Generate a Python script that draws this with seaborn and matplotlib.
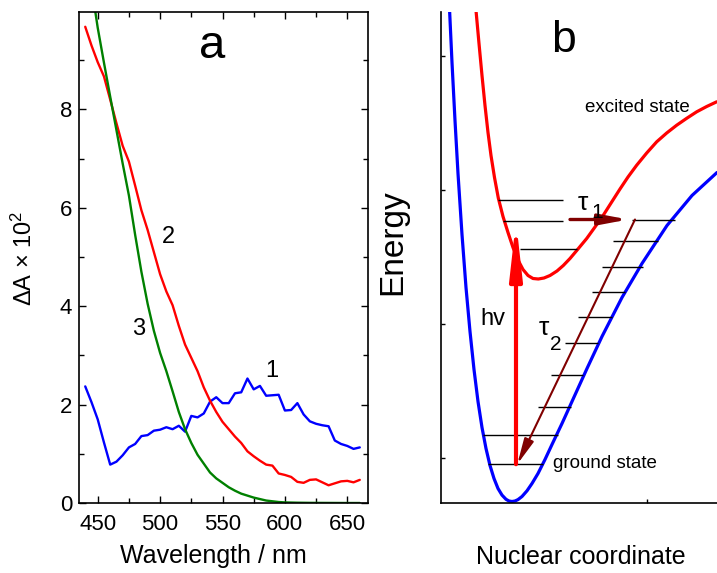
import numpy as np
import pandas as pd
import matplotlib
matplotlib.use("Agg")
import matplotlib.pyplot as plt
import seaborn as sns
from matplotlib.ticker import MultipleLocator

sns.set_theme(style="ticks")
plt.rcParams['font.family'] = ['Liberation Sans', 'DejaVu Sans']
plt.rcParams['text.color'] = 'black'
plt.rcParams['axes.labelcolor'] = 'black'
plt.rcParams['xtick.color'] = 'black'
plt.rcParams['ytick.color'] = 'black'
plt.rcParams['mathtext.fontset'] = 'custom'
plt.rcParams['mathtext.rm'] = 'Liberation Sans'
plt.rcParams['mathtext.it'] = 'Liberation Sans:italic'
plt.rcParams['mathtext.bf'] = 'Liberation Sans:bold'

# ---------------- panel a data ----------------
wavelength = list(range(440, 661, 5))
curve1 = [2.37, 2.05, 1.70, 1.23, 0.78, 0.84, 0.97, 1.13, 1.20, 1.36, 1.38, 1.47, 1.49,
          1.54, 1.50, 1.57, 1.45, 1.77, 1.74, 1.82, 2.06, 2.15, 2.03, 2.03, 2.23, 2.25,
          2.53, 2.31, 2.38, 2.18, 2.19, 2.20, 1.88, 1.89, 2.03, 1.80, 1.66, 1.61, 1.58,
          1.56, 1.27, 1.20, 1.16, 1.10, 1.13]
curve2 = [9.68, 9.30, 8.96, 8.67, 8.20, 7.72, 7.26, 6.94, 6.45, 5.95, 5.55, 5.10, 4.65,
          4.30, 4.02, 3.60, 3.22, 2.95, 2.68, 2.35, 2.08, 1.85, 1.65, 1.50, 1.35, 1.22,
          1.05, 0.95, 0.86, 0.78, 0.76, 0.60, 0.57, 0.53, 0.43, 0.41, 0.47, 0.48, 0.42,
          0.36, 0.40, 0.44, 0.45, 0.42, 0.47]
wavelength3 = list(range(445, 601, 5)) + [610, 620, 630, 640, 650, 660]
curve3 = [10.5, 9.66, 8.95, 8.26, 7.58, 6.90, 6.25, 5.45, 4.70, 4.05, 3.50, 3.05, 2.68,
          2.27, 1.85, 1.50, 1.22, 0.98, 0.80, 0.62, 0.50, 0.41, 0.32, 0.25, 0.19, 0.15,
          0.11, 0.08, 0.05, 0.035, 0.02, 0.012, 0.006, 0.003, 0.002, 0.001, 0.0, 0.0]
xticks_a = [450, 500, 550, 600, 650]
yticks_a = [0, 2, 4, 6, 8]

# ---------------- panel b data (schematic, arbitrary units) ----------------
ground_x = [8.6, 11, 14, 17, 21, 25, 29, 33, 37, 41, 45, 49, 53, 57, 61, 65, 68, 71, 74,
            77, 81, 86, 91, 97, 104, 111, 121, 131, 146, 161, 181, 201, 226, 251, 276]
ground_E = [490.7, 439, 381, 328, 267, 214, 170, 132, 100, 74, 53, 36, 23, 13, 6.4, 2.2,
            0.5, 0, 0.5, 1.9, 5, 10.7, 18, 28, 42, 57, 78, 100, 133, 165, 204, 238, 276,
            306, 329]
excited_x = [35, 38, 41, 44, 47, 50, 53.5, 57.3, 62, 67, 72, 77, 82, 87, 92, 97.3, 103,
             109, 116, 122.3, 129, 137, 145.7, 154, 162.3, 170.7, 179, 187, 195.7, 205.7,
             215.7, 225.7, 235.7, 245.7, 255.7, 265.7, 275.7]
excited_E = [491, 458, 426, 396, 369, 346, 324, 303.5, 285, 269, 254, 241.5, 232, 226, 223,
             222.5, 223.5, 226, 230.5, 236, 243, 252.5, 263, 274.5, 286.3, 299.5, 312.5,
             324.5, 336.3, 348.5, 359.7, 368.5, 376.3, 383.2, 389.7, 395, 399.7]
exc_levels_E = [301.7, 280.5, 252.2]
exc_levels_x0 = [57.3, 62.3, 79]
exc_levels_x1 = [122.3, 122.3, 136]
gr_levels_E = [282, 260.5, 235, 210, 184.7, 158.5, 126.5, 94.7, 66.3, 37.3]
gr_levels_x0 = [190.7, 172.3, 160.7, 150.7, 137.3, 124, 110, 96.7, 42.3, 47.3]
gr_levels_x1 = [234, 217.3, 202, 184, 170.7, 157.3, 142.3, 130, 117.3, 101.7]
hv_x = 75
tau1_x = [129, 187.3]
tau2_x = [194, 76.3]

# ---------------- figure ----------------
W, H = 717, 573
fig = plt.figure(figsize=(W / 100, H / 100), dpi=100)
fig.patch.set_facecolor('white')
axa = fig.add_axes([79 / W, 70 / H, 289 / W, 491 / H])
axb = fig.add_axes([441 / W, 70 / H, 276 / W, 491 / H])

# panel a
sns.lineplot(x=wavelength, y=curve1, ax=axa, color='#0000FF', linewidth=1.7,
             estimator=None, sort=False)
sns.lineplot(x=wavelength, y=curve2, ax=axa, color='#FF0000', linewidth=1.7,
             estimator=None, sort=False)
sns.lineplot(x=wavelength3, y=curve3, ax=axa, color='#008000', linewidth=1.7,
             estimator=None, sort=False)
axa.set_xlim(435, 666.6)
axa.set_ylim(0, 9.98)
axa.set_xticks(xticks_a)
axa.set_yticks(yticks_a)
axa.xaxis.set_minor_locator(MultipleLocator(25))
axa.yaxis.set_minor_locator(MultipleLocator(1))
axa.tick_params(which='both', direction='in', top=True, right=True, labelsize=16,
                width=1, color='black', labelcolor='black')
axa.tick_params(which='major', length=5)
axa.tick_params(which='minor', length=3.5)
axa.tick_params(axis='x', pad=8)
axa.tick_params(axis='y', pad=5)
for s in axa.spines.values():
    s.set_linewidth(1.2)
    s.set_color('black')
axa.set_xlabel('')
axa.set_ylabel('')
axa.text(541.6, 9.05, 'a', fontsize=34, ha='center', va='baseline')
axa.text(589.4, 2.57, '1', fontsize=17, ha='center', va='baseline')
axa.text(506.6, 5.28, '2', fontsize=17, ha='center', va='baseline')
axa.text(482.5, 3.42, '3', fontsize=17, ha='center', va='baseline')

# panel b
sns.lineplot(x=ground_x, y=ground_E, ax=axb, color='#0000FF', linewidth=2.3,
             estimator=None, sort=False)
sns.lineplot(x=excited_x, y=excited_E, ax=axb, color='#FF0000', linewidth=2.3,
             estimator=None, sort=False)
axb.hlines(exc_levels_E, exc_levels_x0, exc_levels_x1, color='black', linewidth=1.0)
axb.hlines(gr_levels_E, gr_levels_x0, gr_levels_x1, color='black', linewidth=1.0)

axb.annotate('', xy=(hv_x, exc_levels_E[1]), xytext=(hv_x, gr_levels_E[-1]),
             arrowprops=dict(arrowstyle='-|>,head_length=3.2,head_width=0.36',
                             lw=3.0, color='#FF0000', shrinkA=0, shrinkB=0,
                             mutation_scale=10))
axb.annotate('', xy=(tau1_x[1], gr_levels_E[0]), xytext=(tau1_x[0], gr_levels_E[0]),
             arrowprops=dict(arrowstyle='-|>,head_length=1.7,head_width=0.32',
                             lw=2.4, color='#800000', shrinkA=0, shrinkB=0,
                             mutation_scale=10))
axb.annotate('', xy=(tau2_x[1], gr_levels_E[-1]), xytext=(tau2_x[0], gr_levels_E[0]),
             arrowprops=dict(arrowstyle='-|>,head_length=1.55,head_width=0.3',
                             lw=1.5, color='#800000', shrinkA=0, shrinkB=0,
                             mutation_scale=10))

axb.set_xlim(0, 276)
axb.set_ylim(-1.5, 489.5)
axb.set_xticks([205.7])
axb.set_yticks([44, 178, 312, 446])
axb.tick_params(which='both', direction='in', length=3, width=1, labelleft=False,
                labelbottom=False, color='black')
for side in ['top', 'right']:
    axb.spines[side].set_visible(False)
for side in ['left', 'bottom']:
    axb.spines[side].set_linewidth(1.2)
    axb.spines[side].set_color('black')
axb.set_xlabel('')
axb.set_ylabel('')
axb.text(122, 449.7, 'b', fontsize=32, ha='center', va='baseline')
axb.text(52.3, 176.3, 'hv', fontsize=17, ha='center', va='baseline')
axb.text(144, 389.7, 'excited state', fontsize=13.5, ha='left', va='baseline')
axb.text(112.3, 33.7, 'ground state', fontsize=13.5, ha='left', va='baseline')
axb.text(142.3, 292, 'τ', fontsize=19, ha='center', va='baseline')
axb.text(156.5, 284, '1', fontsize=15, ha='center', va='baseline')
axb.text(103.2, 166.3, 'τ', fontsize=19, ha='center', va='baseline')
axb.text(114.8, 152, '2', fontsize=15, ha='center', va='baseline')

# axis titles
fig.text(213.3 / W, 1 - 556 / H, 'Wavelength / nm', fontsize=18, ha='center', va='center')
fig.text(580.8 / W, 1 - 557 / H, 'Nuclear coordinate', fontsize=18, ha='center', va='center')
fig.text(24 / W, 1 - 258 / H, r'$\Delta$A $\times$ 10$^{2}$', fontsize=17, rotation=90,
         ha='center', va='center')
fig.text(393 / W, 1 - 242 / H, 'Energy', fontsize=24, rotation=90, ha='center', va='center')

fig.savefig('out.png', dpi=100, facecolor='white')
